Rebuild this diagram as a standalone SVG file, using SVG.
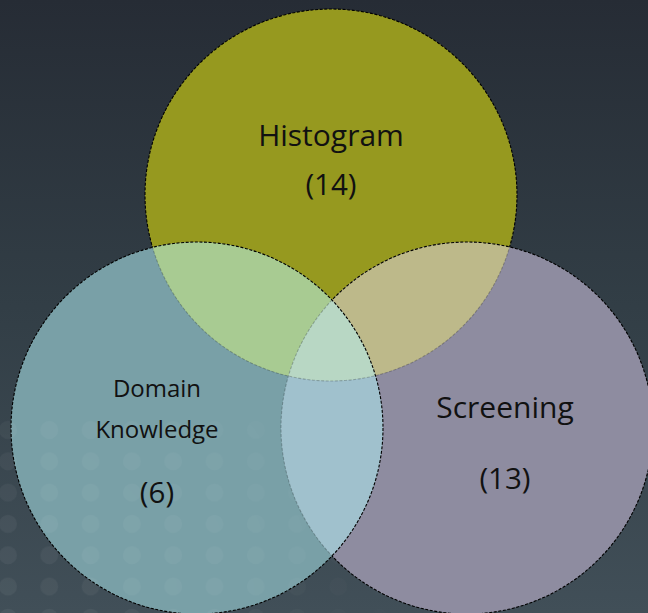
<svg xmlns="http://www.w3.org/2000/svg" width="648" height="613" viewBox="0 0 648 613">
<style>
.lbl{font-family:"Open Sans","Noto Sans","Liberation Sans",sans-serif;fill:#111;text-anchor:middle}
.dash{fill:none;stroke:#000;stroke-width:1.1;stroke-dasharray:3 1.6}
.faint{fill:none;stroke:#000;stroke-opacity:0.22;stroke-width:1.1;stroke-dasharray:3 1.6}
</style>
<defs>
<linearGradient id="bg" x1="0" y1="0" x2="0" y2="1">
<stop offset="0" stop-color="#262c35"/>
<stop offset="0.5" stop-color="#323e46"/>
<stop offset="1" stop-color="#414f58"/>
</linearGradient>
<pattern id="dots" patternUnits="userSpaceOnUse" x="-12.65" y="414.35" width="41.3" height="31.3">
<circle cx="20.65" cy="15.65" r="9" fill="#fff"/>
</pattern>
<radialGradient id="fade" gradientUnits="userSpaceOnUse" cx="0" cy="613" r="420">
<stop offset="0" stop-color="#fff" stop-opacity="1"/>
<stop offset="0.55" stop-color="#fff" stop-opacity="0.75"/>
<stop offset="1" stop-color="#fff" stop-opacity="0"/>
</radialGradient>
<mask id="dotMask" maskUnits="userSpaceOnUse" x="0" y="0" width="648" height="613">
<rect x="0" y="415" width="648" height="198" fill="url(#fade)"/>
<circle cx="331" cy="195" r="186" fill="#000"/>
<circle cx="467" cy="428" r="186" fill="#000"/>
</mask>
<clipPath id="cH"><circle cx="331" cy="195" r="186"/></clipPath>
<clipPath id="cS"><circle cx="467" cy="428" r="186"/></clipPath>
<clipPath id="cD"><circle cx="197" cy="428" r="186"/></clipPath>
<clipPath id="cDS"><circle cx="197" cy="428" r="186"/><circle cx="467" cy="428" r="186"/></clipPath>
<mask id="outDS" maskUnits="userSpaceOnUse" x="0" y="0" width="648" height="613">
<rect width="648" height="613" fill="#fff"/>
<circle cx="197" cy="428" r="186" fill="#000"/>
<circle cx="467" cy="428" r="186" fill="#000"/>
</mask>
<mask id="outD" maskUnits="userSpaceOnUse" x="0" y="0" width="648" height="613">
<rect width="648" height="613" fill="#fff"/>
<circle cx="197" cy="428" r="186" fill="#000"/>
</mask>
</defs>
<rect width="648" height="613" fill="url(#bg)"/>

<g id="fills">
<circle cx="331" cy="195" r="186" fill="#96991f"/>
<circle cx="467" cy="428" r="186" fill="#8e8ca0"/>
<circle cx="197" cy="428" r="186" fill="#79a0a7"/>
<circle cx="467" cy="428" r="186" fill="#bdb98a" clip-path="url(#cH)"/>
<circle cx="197" cy="428" r="186" fill="#a8cb92" clip-path="url(#cH)"/>
<circle cx="197" cy="428" r="186" fill="#a0c1cd" clip-path="url(#cS)"/>
<g clip-path="url(#cS)"><circle cx="197" cy="428" r="186" fill="#b8d7c4" clip-path="url(#cH)"/></g>
</g>

<rect width="648" height="613" fill="url(#dots)" fill-opacity="0.05" mask="url(#dotMask)"/>

<g id="connectors"></g>

<g id="histogram">
<circle class="dash" cx="331" cy="195" r="186" mask="url(#outDS)"/>
<circle class="faint" cx="331" cy="195" r="186" clip-path="url(#cDS)"/>
<text class="lbl" x="331" y="146" font-size="30">Histogram</text>
<text class="lbl" x="331" y="195" font-size="29.5">(14)</text>
</g>
<g id="screening">
<circle class="dash" cx="467" cy="428" r="186" mask="url(#outD)"/>
<circle class="faint" cx="467" cy="428" r="186" clip-path="url(#cD)"/>
<text class="lbl" x="505" y="418" font-size="30">Screening</text>
<text class="lbl" x="505" y="489" font-size="29.5">(13)</text>
</g>
<g id="domain">
<circle class="dash" cx="197" cy="428" r="186"/>
<text class="lbl" x="157" y="397" font-size="24">Domain</text>
<text class="lbl" x="157" y="438" font-size="24">Knowledge</text>
<text class="lbl" x="157" y="503" font-size="29.5">(6)</text>
</g>
</svg>
